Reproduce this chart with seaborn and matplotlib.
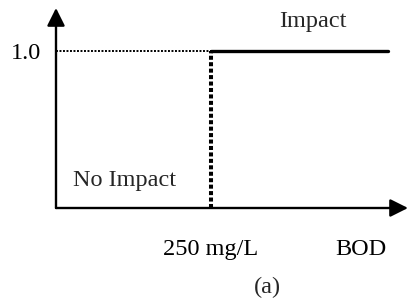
import matplotlib
matplotlib.use("Agg")
import matplotlib.pyplot as plt
import seaborn as sns
import pandas as pd

sns.set_theme(style="white")
plt.rcParams['font.family'] = ['Liberation Serif', 'DejaVu Serif']

# data
threshold = 250          # mg/L
x_end = 535
impact_level = 1.0
step_x = [threshold, x_end]
step_y = [impact_level, impact_level]
tick_x_vals = [threshold, 492]
tick_x_labels = ["250 mg/L", "BOD"]
tick_y_vals = [1.0]
tick_y_labels = ["1.0"]

FS = 17.5
W, H = 412, 305
fig = plt.figure(figsize=(W / 100, H / 100), dpi=100)
x0, y0, x1, y1 = 56, 208, 408, 8
ax = fig.add_axes([x0 / W, 1 - y0 / H, (x1 - x0) / W, (y0 - y1) / H])
ax.set_xlim(0, (x1 - x0) / 0.62)
ax.set_ylim(0, (y0 - y1) / 157)
for s in ax.spines.values():
    s.set_visible(False)
ax.patch.set_alpha(0)

# axes arrows
astyle = "-|>,head_length=0.9,head_width=0.45"
ax.annotate("", xy=(1, 0), xycoords="axes fraction", xytext=(0, 0),
            arrowprops=dict(arrowstyle=astyle, lw=1.7, color="black", shrinkA=0, shrinkB=0))
ax.annotate("", xy=(0, 1), xycoords="axes fraction", xytext=(0, 0),
            arrowprops=dict(arrowstyle=astyle, lw=1.7, color="black", shrinkA=0, shrinkB=0))

# step function
df = pd.DataFrame({"x": step_x, "y": step_y})
sns.lineplot(data=df, x="x", y="y", ax=ax, color="black", lw=2.4, estimator=None, sort=False)
ax.plot([0, threshold], [impact_level, impact_level], color="black", lw=1.4, linestyle=(0, (1, 0.8)))
ax.plot([threshold, threshold], [0, impact_level], color="black", lw=2.9, linestyle=(0, (1, 0.6)),
        solid_capstyle="butt", dash_capstyle="butt")
ax.plot([0, threshold], [0, 0], color="black", lw=1.9)

ax.set_xticks(tick_x_vals)
ax.set_xticklabels(tick_x_labels)
ax.set_yticks(tick_y_vals)
ax.set_yticklabels(tick_y_labels)
ax.tick_params(axis="x", length=0, pad=22.5, labelsize=FS, colors="black")
ax.tick_params(axis="y", length=0, pad=11, labelsize=FS, colors="black")
ax.set_xlabel("")
ax.set_ylabel("")

ax.text(414, 1.185, "Impact", ha="center", va="center", fontsize=FS)
ax.text(110, 0.178, "No Impact", ha="center", va="center", fontsize=FS)
fig.text(267 / W, 1 - 287 / H, "(a)", ha="center", va="center", fontsize=FS)

fig.savefig("out.png", dpi=100)
